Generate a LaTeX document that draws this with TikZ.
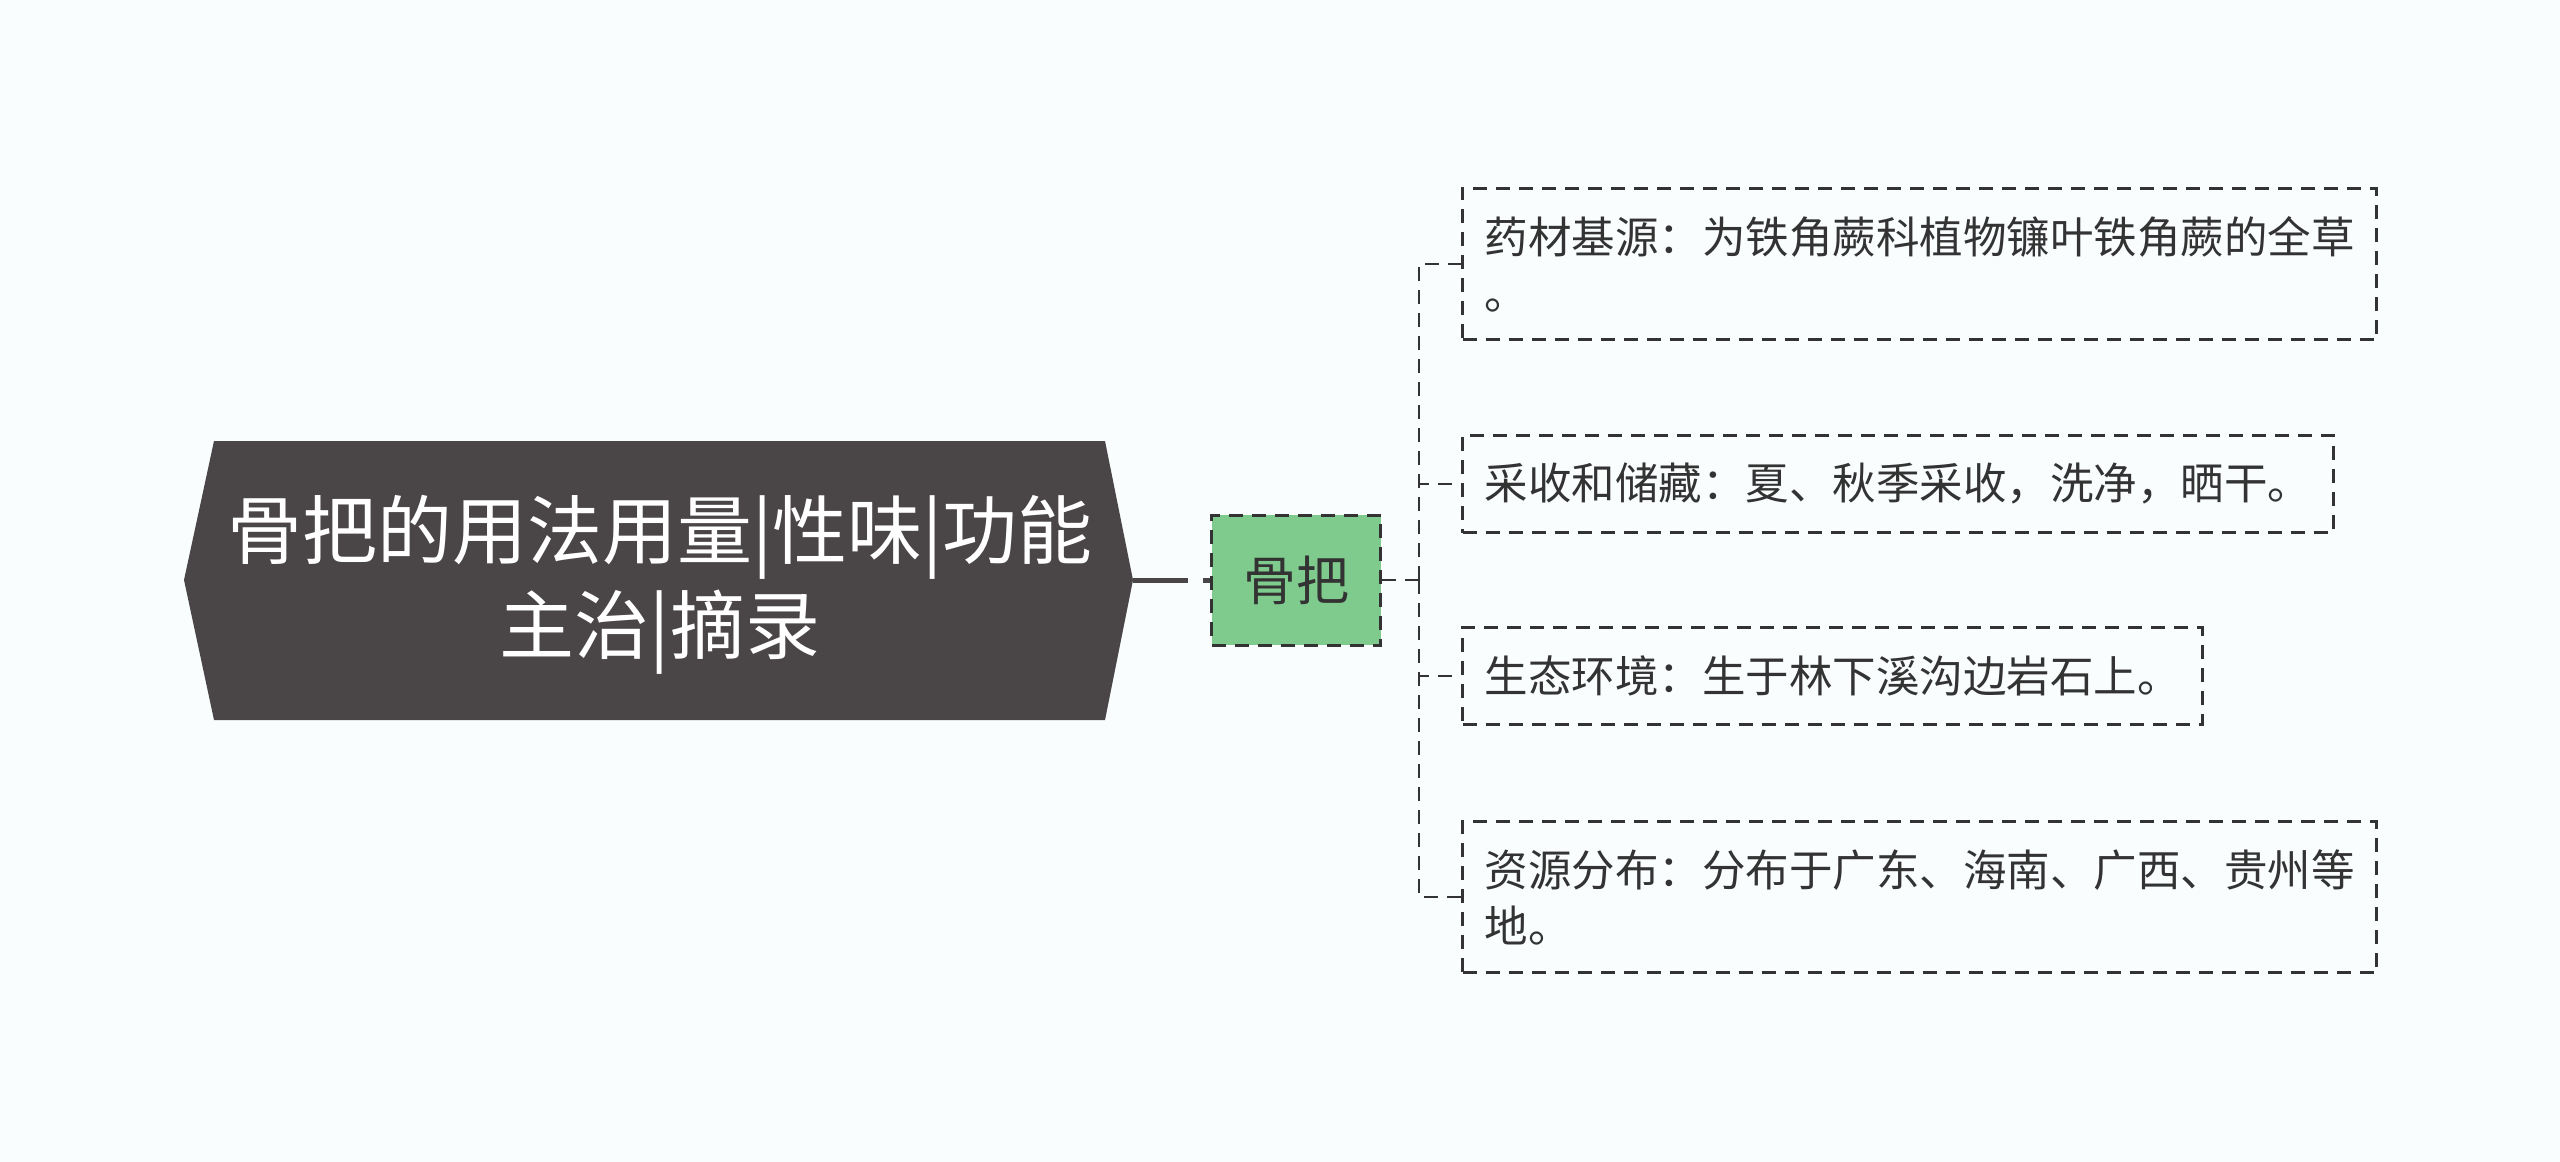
\documentclass[tikz,border=0pt]{standalone}
\usepackage{fontspec}
\setmainfont{Noto Sans CJK SC}
\usepackage{xcolor}
\usepackage{tikz}
\definecolor{bgcol}{HTML}{F9FDFE}
\definecolor{rootcol}{HTML}{4A4546}
\definecolor{topiccol}{HTML}{7FCB8E}
\definecolor{linecol}{HTML}{333333}

\begin{document}
\begin{tikzpicture}[x=0.5pt,y=-0.5pt]
      \tikzstyle{root} = [text=white, align=center, font=\fontsize{37.5pt}{47.5pt}\selectfont]
      \tikzstyle{topic} = [draw=linecol, fill=topiccol, line width=1.5pt, dash pattern=on 7pt off 4.5pt, minimum width=84.5pt, minimum height=65pt, text=linecol, font=\fontsize{26.5pt}{30pt}\selectfont]
      \tikzstyle{leaf} = [draw=linecol, line width=1.5pt, dash pattern=on 7pt off 4.5pt, anchor=west, align=left, inner xsep=11pt, inner ysep=14pt, text=linecol, font=\fontsize{21.75pt}{28pt}\selectfont]
      \tikzstyle{link} = [draw=linecol, line width=1.3pt, dash pattern=on 7pt off 4.5pt]
      \fill[bgcol] (0,0) rectangle (2560,1162);
      \useasboundingbox (0,0) rectangle (2560,1162);
      % root shape
      \fill[rootcol] (214,441) -- (1105,441) -- (1133,580) -- (1105,720) -- (214,720) -- (184,580) -- cycle;
      \node[root] (root) at (660,585) {骨把的用法用量|性味|功能\\主治|摘录};
      \coordinate (rootE) at (1133,580);
      \node[topic] (gu) at (1296,580) {骨把};
      \coordinate (spine) at (1419,580);
      \node[leaf] (src) at (1461,264) {药材基源：为铁角蕨科植物镰叶铁角蕨的全草\\。};
      \node[leaf] (pick) at (1461,484) {采收和储藏：夏、秋季采收，洗净，晒干。};
      \node[leaf] (env) at (1461,676) {生态环境：生于林下溪沟边岩石上。};
      \node[leaf] (dist) at (1461,897) {资源分布：分布于广东、海南、广西、贵州等\\地。};
      \draw[rootcol, line width=2.5pt, dash pattern=on 27.5pt off 7.5pt] (rootE) -- (gu.west);
      \draw[link] (gu.east) -- (spine);
      \draw[link] (spine) |- (src.west);
      \draw[link] (spine) |- (pick.west);
      \draw[link] (spine) |- (env.west);
      \draw[link] (spine) |- (dist.west);
    \end{tikzpicture}
\end{document}
